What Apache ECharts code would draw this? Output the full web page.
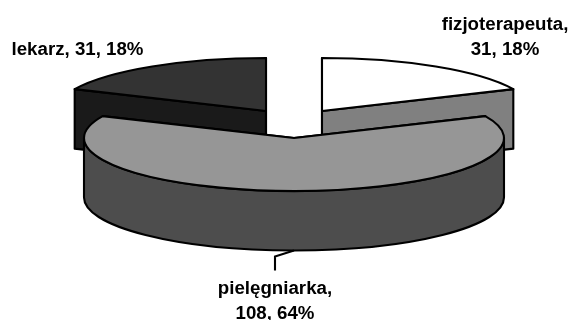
<!DOCTYPE html>
<html>
<head>
<meta charset="utf-8">
<style>html,body{margin:0;padding:0;background:#fff}#chart{width:574px;height:320px}</style>
<script src="https://cdn.jsdelivr.net/npm/echarts@6/dist/echarts.min.js"></script>
</head>
<body>
<div id="chart"></div>
<script>
// Staff structure, clockwise from twelve o'clock
const categories = ['fizjoterapeuta', 'pielęgniarka', 'lekarz'];
const counts = [31, 108, 31];

// Projected pie geometry
const CENTER_X = 294, CENTER_Y = 138, RADIUS_X = 210, RADIUS_Y = 53, DEPTH = 59.5;

// Per-slice appearance: explosion offset and fills
const sliceLook = [
  { dx: 28, dy: -27, top: '#ffffff', side: '#808080', z: 1 },
  { dx: 0, dy: 0, top: '#969696', side: '#4d4d4d', z: 5 },
  { dx: -28, dy: -27, top: '#333333', side: '#1a1a1a', z: 1 }
];

// Label placement
const labelLook = [
  { x: 505, y: 37, wrap: true },
  { x: 275, y: 301.5, wrap: true },
  { x: 77.5, y: 49.5, wrap: false }
];

const total = counts.reduce((a, b) => a + b, 0);
const startAngles = [];
counts.reduce((sum, v, i) => { startAngles[i] = sum / total * 2 * Math.PI; return sum + v; }, 0);

const LINE = { stroke: '#000', lineWidth: 2.1, lineJoin: 'round' };

function rim(cx, cy, angle) {
  return [cx + RADIUS_X * Math.sin(angle), cy - RADIUS_Y * Math.cos(angle)];
}
function arcTo(p, large, sweep) {
  return `A ${RADIUS_X} ${RADIUS_Y} 0 ${large ? 1 : 0} ${sweep ? 1 : 0} ${p[0]} ${p[1]} `;
}
function shape(d, fill, z2) {
  return { type: 'path', z2, shape: { pathData: d }, style: Object.assign({ fill }, LINE) };
}
function radialFace(cx, cy, p, fill, z2) {
  const d = `M ${cx} ${cy} L ${p[0]} ${p[1]} L ${p[0]} ${p[1] + DEPTH} L ${cx} ${cy + DEPTH} Z`;
  return shape(d, fill, z2);
}

function renderSlice(params) {
  const i = params.dataIndex;
  const look = sliceLook[i];
  const cx = CENTER_X + look.dx, cy = CENTER_Y + look.dy;
  const a0 = startAngles[i];
  const a1 = a0 + counts[i] / total * 2 * Math.PI;
  const p0 = rim(cx, cy, a0), p1 = rim(cx, cy, a1);
  const children = [
    radialFace(cx, cy, p0, look.side, look.z),
    radialFace(cx, cy, p1, look.side, look.z)
  ];

  // Outer wall: only the part of the rim that faces the viewer
  const w0 = Math.max(a0, Math.PI / 2), w1 = Math.min(a1, Math.PI * 1.5);
  if (w1 > w0) {
    const s = rim(cx, cy, w0), e = rim(cx, cy, w1);
    const d = `M ${s[0]} ${s[1]} ` + arcTo(e, w1 - w0 > Math.PI, true) +
      `L ${e[0]} ${e[1] + DEPTH} ` + arcTo([s[0], s[1] + DEPTH], w1 - w0 > Math.PI, false) + 'Z';
    children.push(shape(d, look.side, look.z + 1));
  }

  // Top surface
  const top = `M ${cx} ${cy} L ${p0[0]} ${p0[1]} ` + arcTo(p1, a1 - a0 > Math.PI, true) + 'Z';
  children.push(shape(top, look.top, look.z + 2));

  // Label text
  const lab = labelLook[i];
  const pct = Math.round(counts[i] / total * 100);
  const text = categories[i] + ',' + (lab.wrap ? '\n' : ' ') + counts[i] + ', ' + pct + '%';
  children.push({
    type: 'text', z2: 20, x: lab.x, y: lab.y,
    style: { text, fill: '#000', font: 'bold 18.7px "Liberation Sans", Arial, sans-serif',
      lineHeight: 25, align: 'center', verticalAlign: 'middle' }
  });

  // Leader line from the bottom of the largest slice to its label
  if (a1 - a0 > Math.PI) {
    const anchor = rim(cx, cy, (a0 + a1) / 2);
    children.push({
      type: 'polyline', z2: 20,
      shape: { points: [[anchor[0], anchor[1] + DEPTH], [lab.x, anchor[1] + DEPTH + 6], [lab.x, anchor[1] + DEPTH + 20]] },
      style: { stroke: '#000', lineWidth: 2.1, fill: null }
    });
  }
  return { type: 'group', children };
}

const chart = echarts.init(document.getElementById('chart'), null, { renderer: 'canvas' });
chart.setOption({
  backgroundColor: '#ffffff',
  animation: false,
  series: [{
    type: 'custom',
    coordinateSystem: 'none',
    renderItem: renderSlice,
    data: counts.map((v, i) => ({ name: categories[i], value: v }))
  }]
});
</script>
</body>
</html>
